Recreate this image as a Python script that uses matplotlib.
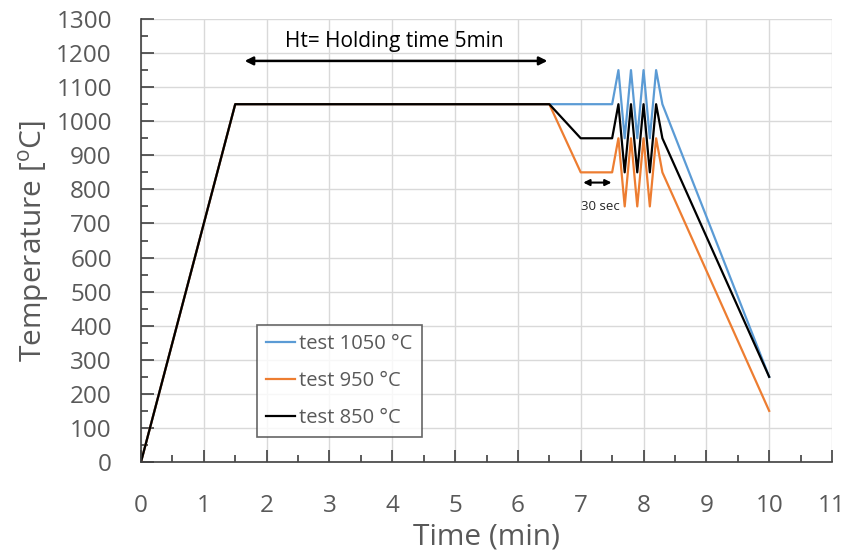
import matplotlib
matplotlib.use("Agg")
import matplotlib.pyplot as plt
from matplotlib.ticker import MultipleLocator

plt.rcParams['font.family'] = ['Open Sans', 'DejaVu Sans']
plt.rcParams['mathtext.fontset'] = 'custom'
plt.rcParams['mathtext.rm'] = 'Open Sans'

# heat treatment cycles: heat up, hold, cool to test temperature, thermal cycling, cool down
time_1050 = [0, 1.5, 6.5, 7.5, 7.6, 7.7, 7.8, 7.9, 8.0, 8.1, 8.2, 8.3, 10]
temp_1050 = [0, 1050, 1050, 1050, 1150, 950, 1150, 950, 1150, 950, 1150, 1050, 250]

time_950 = [0, 1.5, 6.5, 7.0, 7.5, 7.6, 7.7, 7.8, 7.9, 8.0, 8.1, 8.2, 8.3, 10]
temp_950 = [0, 1050, 1050, 850, 850, 950, 750, 950, 750, 950, 750, 950, 850, 150]

time_850 = [0, 1.5, 6.5, 7.0, 7.5, 7.6, 7.7, 7.8, 7.9, 8.0, 8.1, 8.2, 8.3, 10]
temp_850 = [0, 1050, 1050, 950, 950, 1050, 850, 1050, 850, 1050, 850, 1050, 950, 250]

labels = ["test 1050 °C", "test 950 °C", "test 850 °C"]
colors = ["#5B9BD5", "#ED7D31", "#000000"]

fig = plt.figure(figsize=(8.51, 5.57), dpi=100)
ax = fig.add_axes([141 / 851, 1 - 462 / 557, 691 / 851, 443 / 557])

ax.plot(time_1050, temp_1050, color=colors[0], lw=1.6, label=labels[0])
ax.plot(time_950, temp_950, color=colors[1], lw=1.6, label=labels[1])
ax.plot(time_850, temp_850, color=colors[2], lw=1.6, label=labels[2])

ax.set_xlim(0, 11)
ax.set_ylim(0, 1300)
ax.xaxis.set_major_locator(MultipleLocator(1))
ax.xaxis.set_minor_locator(MultipleLocator(0.5))
ax.yaxis.set_major_locator(MultipleLocator(100))
ax.yaxis.set_minor_locator(MultipleLocator(50))
ax.grid(True, which='major', color='#d9d9d9', lw=1)
ax.set_axisbelow(True)

for s in ['top', 'right']:
    ax.spines[s].set_visible(False)
for s in ['left', 'bottom']:
    ax.spines[s].set_color('#404040')
    ax.spines[s].set_linewidth(1.2)

ax.tick_params(which='major', direction='in', length=9, width=1.2, color='#404040',
               labelsize=17.5, labelcolor='#595959')
ax.tick_params(which='minor', direction='in', length=5, width=1.2, color='#404040')
ax.tick_params(axis='x', which='major', pad=23)
ax.tick_params(axis='y', which='major', pad=21)

ax.set_xlabel("Time (min)", fontsize=21.5, color='#595959', labelpad=3)
ax.set_ylabel("Temperature [$^{\\mathrm{o}}$C]", fontsize=21.5, color='#595959', labelpad=3)

# holding time annotation
ax.annotate("", xy=(1.65, 1177), xytext=(6.47, 1177),
            arrowprops=dict(arrowstyle='<|-|>', color='black', lw=1.8,
                            mutation_scale=12, shrinkA=0, shrinkB=0))
ax.text(4.04, 1235, "Ht= Holding time 5min", fontsize=15, ha='center', va='center',
        color='black')

# 30 sec annotation
ax.annotate("", xy=(7.04, 820), xytext=(7.49, 820),
            arrowprops=dict(arrowstyle='<|-|>', color='black', lw=1.5,
                            mutation_scale=9, shrinkA=0, shrinkB=0))
ax.text(7.32, 750, "30 sec", fontsize=9.5, ha='center', va='center', color='#262626')

leg = ax.legend(loc='lower left', bbox_to_anchor=(116 / 691, 25 / 443), fontsize=14.5,
                frameon=True, fancybox=False, handlelength=1.45, handletextpad=0.2,
                borderpad=0.45, labelspacing=0.85, borderaxespad=0)
leg.get_frame().set_edgecolor('#404040')
leg.get_frame().set_linewidth(1.2)
for t in leg.get_texts():
    t.set_color('#595959')

fig.savefig("out.png", dpi=100)
